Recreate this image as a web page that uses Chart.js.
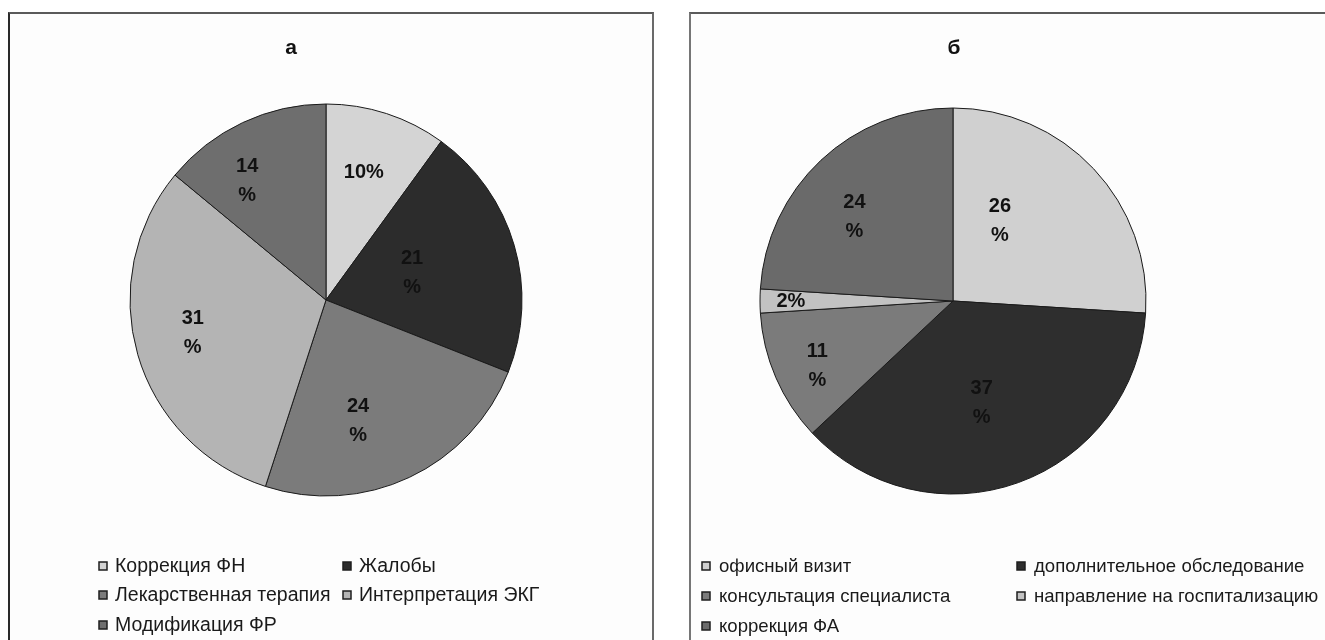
<!DOCTYPE html>
<html lang="ru">
<head>
<meta charset="utf-8">
<script src="https://cdn.jsdelivr.net/npm/chart.js@4.4.1/dist/chart.umd.min.js"></script>
<style>
  html, body { margin: 0; padding: 0; background: #ffffff; }
  #stage { position: relative; width: 1325px; height: 640px; overflow: hidden; background: #ffffff; }
  .panel { position: absolute; background: #fdfdfd; box-sizing: border-box; }
  #panelA { left: 8px; top: 12px; width: 646px; height: 640px;
            border-left: 2px solid #2a2a2a; border-top: 2px solid #5a5a5a; border-right: 2px solid #6a6a6a; }
  #panelB { left: 689px; top: 12px; width: 640px; height: 640px;
            border-left: 2px solid #767676; border-top: 2px solid #5a5a5a; }
  canvas { position: absolute; top: 0; }
  #chartA { left: 0; }
  #chartB { left: 671px; }
</style>
</head>
<body>
<div id="stage">
  <div class="panel" id="panelA"></div>
  <div class="panel" id="panelB"></div>
  <canvas id="chartA" width="671" height="640"></canvas>
  <canvas id="chartB" width="654" height="640"></canvas>
</div>
<script>
// Chart "а": share of topics
const titleA = 'а';
const categoriesA = ['Коррекция ФН', 'Жалобы', 'Лекарственная терапия', 'Интерпретация ЭКГ', 'Модификация ФР'];
const valuesA = [10, 21, 24, 31, 14];

// Chart "б": outcomes
const titleB = 'б';
const categoriesB = ['офисный визит', 'дополнительное обследование', 'консультация специалиста', 'направление на госпитализацию', 'коррекция ФА'];
const valuesB = [26, 37, 11, 2, 24];

const coloursA = ['#d4d4d4', '#2c2c2c', '#7b7b7b', '#b4b4b4', '#6e6e6e'];
const coloursB = ['#d0d0d0', '#2e2e2e', '#7b7b7b', '#c2c2c2', '#6a6a6a'];

// Percentage labels inside the slices
const sliceLabels = {
  id: 'sliceLabels',
  afterDatasetsDraw(chart, args, opts) {
    const ctx = chart.ctx;
    const meta = chart.getDatasetMeta(0);
    const values = chart.data.datasets[0].data;
    ctx.save();
    ctx.font = opts.font;
    ctx.fillStyle = opts.color;
    ctx.textAlign = 'center';
    ctx.textBaseline = 'middle';
    meta.data.forEach((arc, i) => {
      const p = arc.getProps(['x', 'y', 'startAngle', 'endAngle', 'outerRadius'], true);
      const mid = (p.startAngle + p.endAngle) / 2 + opts.shift[i] * Math.PI / 180;
      const r = p.outerRadius * opts.radial[i];
      const cx = p.x + Math.cos(mid) * r;
      const cy = p.y + Math.sin(mid) * r;
      const lines = opts.wrap[i] ? [String(values[i]), '%'] : [values[i] + '%'];
      lines.forEach((t, k) => {
        ctx.fillText(t, cx, cy + (k - (lines.length - 1) / 2) * opts.lineHeight);
      });
    });
    ctx.restore();
  }
};

// Title letter and two-column legend
const panelDecor = {
  id: 'panelDecor',
  afterDraw(chart, args, opts) {
    const ctx = chart.ctx;
    ctx.save();
    ctx.fillStyle = '#111';
    ctx.font = opts.titleFont;
    ctx.textAlign = 'center';
    ctx.textBaseline = 'middle';
    ctx.fillText(opts.title, opts.titleX, opts.titleY);

    const ds = chart.data.datasets[0];
    ctx.font = opts.legendFont;
    ctx.textAlign = 'left';
    chart.data.labels.forEach((label, i) => {
      const col = i % 2, row = Math.floor(i / 2);
      const mx = opts.cols[col], my = opts.rows[row];
      const s = opts.box;
      ctx.fillStyle = ds.backgroundColor[i];
      ctx.fillRect(mx, my - s / 2, s, s);
      ctx.strokeStyle = '#1e1e1e';
      ctx.lineWidth = 1.5;
      ctx.strokeRect(mx, my - s / 2, s, s);
      ctx.fillStyle = '#1a1a1a';
      ctx.fillText(label, mx + s + opts.gap, my + 1);
    });
    ctx.restore();
  }
};

function makePie(canvasId, labels, values, colours, radius, padding, labelOpts, decor) {
  return new Chart(document.getElementById(canvasId), {
    type: 'pie',
    data: {
      labels: labels,
      datasets: [{
        data: values,
        backgroundColor: colours,
        borderColor: '#1a1a1a',
        borderWidth: 1,
        hoverOffset: 0,
        radius: radius
      }]
    },
    options: {
      responsive: false,
      animation: false,
      events: [],
      layout: { padding: padding },
      plugins: {
        legend: { display: false },
        title: { display: false },
        tooltip: { enabled: false },
        sliceLabels: labelOpts,
        panelDecor: decor
      }
    },
    plugins: [sliceLabels, panelDecor]
  });
}

makePie('chartA', categoriesA, valuesA, coloursA, 196,
  { left: 130, right: 149, top: 104, bottom: 144 },
  {
    font: 'bold 20px "Liberation Sans", Arial, sans-serif', color: '#111', lineHeight: 29,
    wrap: [false, true, true, true, true],
    shift: [-1.5, -1.2, 10.4, 2.4, -8.2],
    radial: [0.68, 0.46, 0.64, 0.70, 0.73]
  },
  {
    title: titleA, titleX: 291, titleY: 48, titleFont: 'bold 21px "Liberation Sans", Arial, sans-serif',
    legendFont: '19.5px "Liberation Sans", Arial, sans-serif',
    cols: [99, 343], rows: [566, 595, 625], box: 8, gap: 8
  });

makePie('chartB', categoriesB, valuesB, coloursB, 193,
  { left: 89, right: 179, top: 108, bottom: 146 },
  {
    font: 'bold 20px "Liberation Sans", Arial, sans-serif', color: '#111', lineHeight: 29,
    wrap: [true, true, true, false, true],
    shift: [-16.4, 4.1, -2.3, 0, -6.5],
    radial: [0.48, 0.55, 0.78, 0.84, 0.67]
  },
  {
    title: titleB, titleX: 283, titleY: 48, titleFont: 'bold 21px "Liberation Sans", Arial, sans-serif',
    legendFont: '18.6px "Liberation Sans", Arial, sans-serif',
    cols: [31, 346], rows: [566, 596, 626], box: 8, gap: 9
  });
</script>
</body>
</html>
